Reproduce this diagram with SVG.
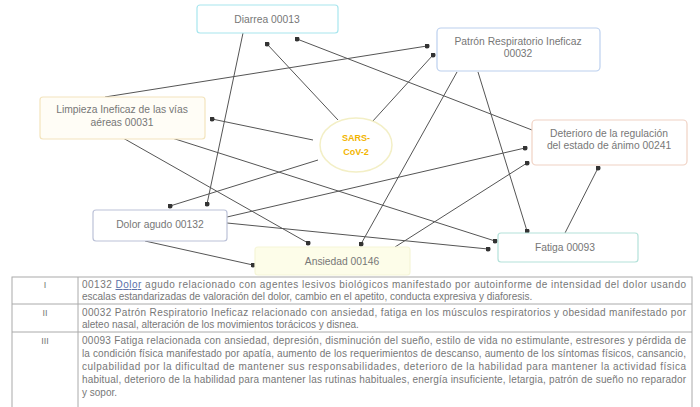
<svg xmlns="http://www.w3.org/2000/svg" width="700" height="407" viewBox="0 0 700 407">
<style>
.box{fill:#fff;stroke-width:1.2}
.lbl{font-family:"Liberation Sans",Arial,sans-serif;font-size:10.3px;fill:#777;text-anchor:middle}
.edge{stroke:#555;stroke-width:1;fill:none;marker-end:url(#dot)}
.tb{stroke:#aaa;stroke-width:1;fill:none}
.tt{font-family:"Liberation Sans",Arial,sans-serif;font-size:10px;fill:#777}
.rn{font-family:"Liberation Sans",Arial,sans-serif;font-size:9px;fill:#777;text-anchor:middle}
</style>
<defs>
<marker id="dot" viewBox="0 0 6 6" refX="3" refY="3" markerWidth="5" markerHeight="5" markerUnits="userSpaceOnUse"><circle cx="3" cy="3" r="3" fill="#333"/></marker>
</defs>
<rect width="700" height="407" fill="#fff"/>
<g id="connectors">
<line class="edge" x1="243" y1="33" x2="207" y2="204"/>
<line class="edge" x1="338" y1="120" x2="267" y2="44"/>
<line class="edge" x1="532" y1="130" x2="297" y2="39"/>
<line class="edge" x1="105" y1="97" x2="427" y2="46"/>
<line class="edge" x1="372" y1="122" x2="433" y2="55"/>
<line class="edge" x1="313" y1="140" x2="212" y2="119"/>
<line class="edge" x1="318" y1="160" x2="170" y2="206"/>
<line class="edge" x1="172" y1="138" x2="495" y2="241"/>
<line class="edge" x1="123" y1="138" x2="308" y2="243"/>
<line class="edge" x1="227" y1="217" x2="525" y2="148"/>
<line class="edge" x1="227" y1="223" x2="488" y2="249"/>
<line class="edge" x1="145" y1="241" x2="253" y2="265"/>
<line class="edge" x1="457" y1="72" x2="361" y2="244"/>
<line class="edge" x1="478" y1="72" x2="527" y2="231"/>
<line class="edge" x1="395" y1="247" x2="527" y2="163"/>
<line class="edge" x1="565" y1="233" x2="598" y2="168"/>
</g>
<g id="diarrea">
<rect class="box" x="197" y="5" width="141" height="28" rx="3" stroke="#a8e6ee"/>
<text class="lbl" x="267" y="23">Diarrea 00013</text>
</g>
<g id="patron">
<rect class="box" x="437" y="28" width="163" height="43" rx="4" stroke="#bcd0ee"/>
<text class="lbl" x="518" y="45">Patrón Respiratorio Ineficaz</text>
<text class="lbl" x="518" y="57">00032</text>
</g>
<g id="limpieza">
<rect class="box" x="40" y="97" width="165" height="42" rx="3" stroke="#f3e4bd" style="fill:#fffdf6"/>
<text class="lbl" x="122" y="113">Limpieza Ineficaz de las vías</text>
<text class="lbl" x="122" y="126">aéreas 00031</text>
</g>
<g id="sars">
<ellipse cx="356" cy="145" rx="36" ry="27" fill="#fff" stroke="#f3efc6" stroke-width="1.5"/>
<text class="lbl" x="356" y="141" style="fill:#f2b400;font-weight:bold;font-size:9px">SARS-</text>
<text class="lbl" x="356" y="155" style="fill:#f2b400;font-weight:bold;font-size:9px">CoV-2</text>
</g>
<g id="deterioro">
<rect class="box" x="532" y="120" width="155" height="45" rx="4" stroke="#f0d2c4"/>
<text class="lbl" x="609" y="137">Deterioro de la regulación</text>
<text class="lbl" x="609" y="149">del estado de ánimo 00241</text>
</g>
<g id="dolor">
<rect class="box" x="93" y="210" width="134" height="31" rx="3" stroke="#bcc2d8"/>
<text class="lbl" x="160" y="228">Dolor agudo 00132</text>
</g>
<g id="ansiedad">
<rect class="box" x="255" y="247" width="155" height="28" rx="3" stroke="#f6f6d8" style="fill:#fdfde9"/>
<text class="lbl" x="342" y="265">Ansiedad 00146</text>
</g>
<g id="fatiga">
<rect class="box" x="498" y="233" width="140" height="29" rx="3" stroke="#b4e2da"/>
<text class="lbl" x="565" y="251">Fatiga 00093</text>
</g>
<g id="table">
<rect class="tb" x="12" y="277" width="680" height="135"/>
<line class="tb" x1="78" y1="277" x2="78" y2="407"/>
<line class="tb" x1="12" y1="304" x2="692" y2="304"/>
<line class="tb" x1="12" y1="332" x2="692" y2="332"/>
<text class="rn" x="45" y="288">I</text>
<text class="rn" x="45" y="316">II</text>
<text class="rn" x="45" y="344">III</text>
<text class="tt" x="82" y="288" textLength="604" lengthAdjust="spacing">00132 <tspan fill="#5a6fa8" text-decoration="underline">Dolor</tspan> agudo relacionado con agentes lesivos biológicos manifestado por autoinforme de intensidad del dolor usando</text>
<text class="tt" x="82" y="300">escalas estandarizadas de valoración del dolor, cambio en el apetito, conducta expresiva y diaforesis.</text>
<text class="tt" x="82" y="316" textLength="604" lengthAdjust="spacing">00032 Patrón Respiratorio Ineficaz relacionado con ansiedad, fatiga en los músculos respiratorios y obesidad manifestado por</text>
<text class="tt" x="82" y="328">aleteo nasal, alteración de los movimientos torácicos y disnea.</text>
<text class="tt" x="82" y="344" textLength="604" lengthAdjust="spacing">00093 Fatiga relacionada con ansiedad, depresión, disminución del sueño, estilo de vida no estimulante, estresores y pérdida de</text>
<text class="tt" x="82" y="357" textLength="604" lengthAdjust="spacing">la condición física manifestado por apatía, aumento de los requerimientos de descanso, aumento de los síntomas físicos, cansancio,</text>
<text class="tt" x="82" y="370" textLength="604" lengthAdjust="spacing">culpabilidad por la dificultad de mantener sus responsabilidades, deterioro de la habilidad para mantener la actividad física</text>
<text class="tt" x="82" y="383" textLength="604" lengthAdjust="spacing">habitual, deterioro de la habilidad para mantener las rutinas habituales, energía insuficiente, letargia, patrón de sueño no reparador</text>
<text class="tt" x="82" y="396">y sopor.</text>
</g>
</svg>
